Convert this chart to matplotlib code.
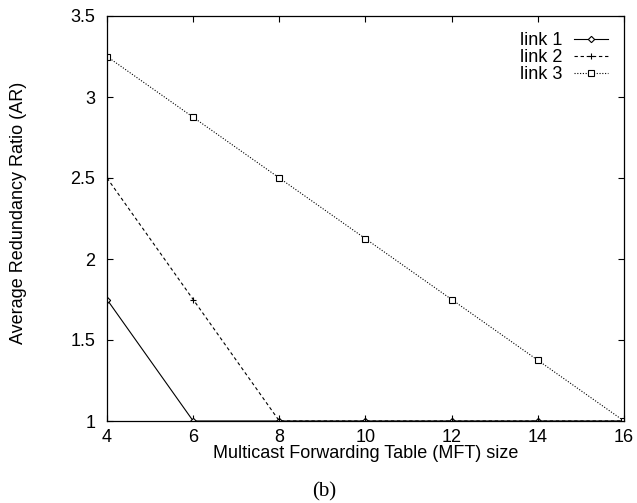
import matplotlib
matplotlib.use("Agg")
import matplotlib.pyplot as plt

plt.rcParams['font.family'] = ['Liberation Sans', 'DejaVu Sans']

x = [4, 6, 8, 10, 12, 14, 16]
link1 = [1.75, 1, 1, 1, 1, 1, 1]
link2 = [2.5, 1.75, 1, 1, 1, 1, 1]
link3 = [3.25, 2.875, 2.5, 2.125, 1.75, 1.375, 1]
labels = ["link 1", "link 2", "link 3"]

W, H = 637, 503
L, R, T, B = 107, 624, 16, 421
fig = plt.figure(figsize=(W/100, H/100), dpi=100)
ax = fig.add_axes([L/W, 1-B/H, (R-L)/W, (B-T)/H])

ax.plot(x, link1, color='black', lw=0.8, ls='-', marker='D', ms=3.2, mfc='white', mec='black', mew=0.8, label=labels[0])
ax.plot(x, link2, color='black', lw=0.8, ls=(0, (3, 2.5)), marker='+', ms=5, mec='black', mew=0.8, label=labels[1])
ax.plot(x, link3, color='black', lw=0.8, ls=(0, (1, 1.5)), marker='s', ms=4, mfc='white', mec='black', mew=0.8, label=labels[2])

ax.set_xlim(4, 16)
ax.set_ylim(1, 3.5)
ax.set_xticks([4, 6, 8, 10, 12, 14, 16])
ax.set_yticks([1, 1.5, 2, 2.5, 3, 3.5])
ax.set_yticklabels(['1', '1.5', '2', '2.5', '3', '3.5'])
ax.tick_params(direction='in', top=True, right=True, length=4.5, width=0.8, labelsize=13)
ax.tick_params(axis='x', pad=6)
ax.tick_params(axis='y', pad=8.5)
for s in ax.spines.values():
    s.set_linewidth(0.9)

ax.set_xlabel("Multicast Forwarding Table (MFT) size", fontsize=13, labelpad=-1)
ax.set_ylabel("Average Redundancy Ratio (AR)", fontsize=13)
ax.yaxis.set_label_coords((27 - L) / (R - L), (B - 212.5) / (B - T))

leg = ax.legend(loc='upper right', markerfirst=False, frameon=False, fontsize=13,
                handlelength=1.85, labelspacing=0.0, borderpad=0.45, borderaxespad=0.45,
                handletextpad=0.67)

fig.text(324.5/W, 1-492/H, "(b)", ha='center', va='center', fontsize=15,
         family=['Liberation Serif', 'DejaVu Serif'])

fig.savefig("out.png", dpi=100)
